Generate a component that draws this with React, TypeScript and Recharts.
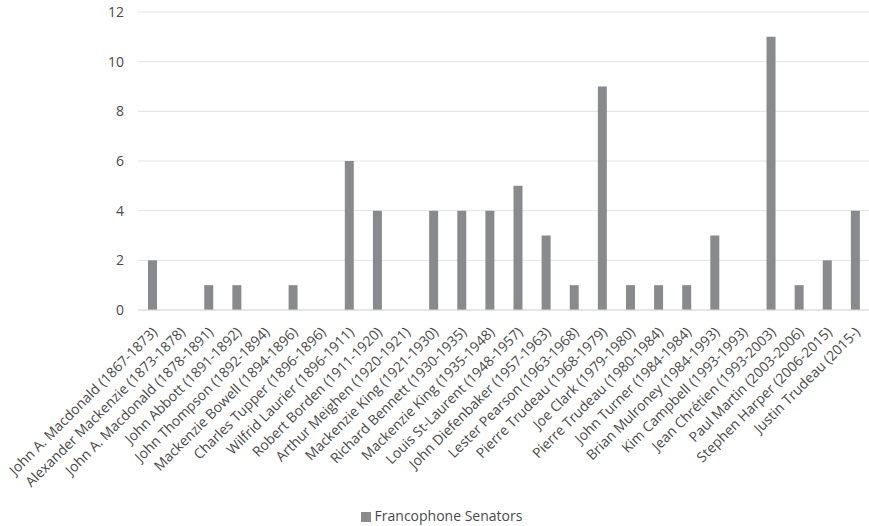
import React from 'react';
import { BarChart, Bar, XAxis, YAxis, CartesianGrid, Legend } from 'recharts';

const primeMinisters = [
  'John A. Macdonald (1867-1873)',
  'Alexander Mackenzie (1873-1878)',
  'John A. Macdonald (1878-1891)',
  'John Abbott (1891-1892)',
  'John Thompson (1892-1894)',
  'Mackenzie Bowell (1894-1896)',
  'Charles Tupper (1896-1896)',
  'Wilfrid Laurier (1896-1911)',
  'Robert Borden (1911-1920)',
  'Arthur Meighen (1920-1921)',
  'Mackenzie King (1921-1930)',
  'Richard Bennett (1930-1935)',
  'Mackenzie King (1935-1948)',
  'Louis St-Laurent (1948-1957)',
  'John Diefenbaker (1957-1963)',
  'Lester Pearson (1963-1968)',
  'Pierre Trudeau (1968-1979)',
  'Joe Clark (1979-1980)',
  'Pierre Trudeau (1980-1984)',
  'John Turner (1984-1984)',
  'Brian Mulroney (1984-1993)',
  'Kim Campbell (1993-1993)',
  'Jean Chrétien (1993-2003)',
  'Paul Martin (2003-2006)',
  'Stephen Harper (2006-2015)',
  'Justin Trudeau (2015-)',
];

const francophoneSenators = [2, 0, 1, 1, 0, 1, 0, 6, 4, 0, 4, 4, 4, 5, 3, 1, 9, 1, 1, 1, 3, 0, 11, 1, 2, 4];

const yTicks = [0, 2, 4, 6, 8, 10, 12];

const data = primeMinisters.map((name, i) => ({
  name,
  senators: francophoneSenators[i],
}));

const FONT = '"Open Sans", sans-serif';
const TEXT = '#4a4a4a';

const AngledTick = (props: any) => {
  const { x, y, payload } = props;
  return (
    <g transform={`translate(${x + 6},${y + 15})`}>
      <text
        transform="rotate(-45)"
        textAnchor="end"
        fontFamily={FONT}
        fontSize={14}
        fill={TEXT}
      >
        {payload.value}
      </text>
    </g>
  );
};

export default function App() {
  return (
    <div style={{ position: 'absolute', left: 0, top: 0, width: 869, height: 526 }}>
      <BarChart
        width={869}
        height={526}
        data={data}
        margin={{ top: 12, right: 0, left: 0, bottom: 0 }}
        barCategoryGap="68%"
      >
        <CartesianGrid vertical={false} stroke="#e3e3e3" />
        <XAxis
          dataKey="name"
          interval={0}
          height={186}
          tickLine={false}
          axisLine={{ stroke: '#d9d9d9' }}
          tick={<AngledTick />}
        />
        <YAxis
          width={138}
          domain={[0, 12]}
          ticks={yTicks}
          tickLine={false}
          axisLine={false}
          tickSize={0}
          tickMargin={14}
          tick={{ fontFamily: FONT, fontSize: 14, fill: TEXT }}
        />
        <Legend
          verticalAlign="bottom"
          height={30}
          iconType="square"
          iconSize={10}
          wrapperStyle={{ fontFamily: FONT, fontSize: 14, color: TEXT, top: 506, left: 12 }}
          formatter={(value) => <span style={{ color: TEXT }}>{value}</span>}
        />
        <Bar
          dataKey="senators"
          name="Francophone Senators"
          fill="#898a8e"
          barSize={9}
          isAnimationActive={false}
        />
      </BarChart>
    </div>
  );
}
